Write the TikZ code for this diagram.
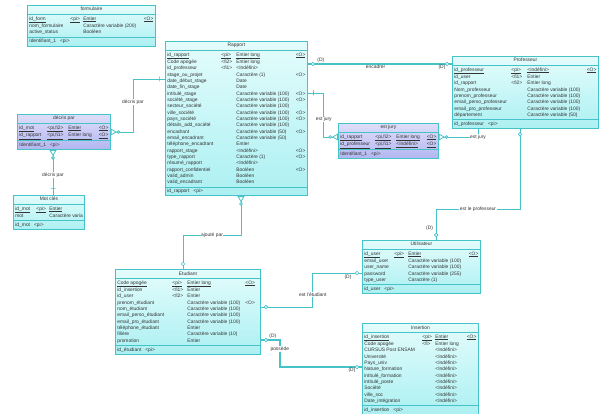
\documentclass[tikz,border=0pt]{standalone}
\usepackage{fontspec}
\setmainfont{Liberation Sans}
\usepackage{array}
\usetikzlibrary{shapes.multipart,arrows.meta}

\definecolor{entline}{RGB}{70,195,200}
\definecolor{enttop}{RGB}{228,252,252}
\definecolor{entbot}{RGB}{172,240,242}
\definecolor{assotop}{RGB}{222,222,250}
\definecolor{assobot}{RGB}{178,182,240}

\newcolumntype{L}[1]{p{#1}}
\newcolumntype{R}[1]{>{\raggedleft\arraybackslash}p{#1}}
\newcommand{\hd}{\rule[-1.8pt]{0pt}{6pt}}
\newcommand{\pkey}[1]{\underline{#1}}
\hbadness=10000 \hfuzz=20pt

\tikzset{
  entity/.style={rectangle split, rectangle split parts=3,
    rectangle split part align={center,left,left},
    draw=entline, line width=0.8pt, top color=enttop, bottom color=entbot,
    inner xsep=2pt, inner ysep=1pt, anchor=north west, text=black!80,
    font=\fontsize{4.9}{6.33}\selectfont},
  assoc/.style={entity, top color=assotop, bottom color=assobot},
  conn/.style={draw=entline, line width=0.8pt},
  heavy/.style={conn, line width=1.5pt},
  ocirc/.style={circle, draw=entline, line width=0.7pt, fill=white, inner sep=0pt, minimum size=3.5pt},
  vtick/.style={draw=entline, line width=0.7pt, inner sep=0pt, minimum width=0pt, minimum height=5pt},
  htick/.style={draw=entline, line width=0.7pt, inner sep=0pt, minimum width=5pt, minimum height=0pt},
  lbl/.style={fill=white, inner sep=0.6pt, text=black!80, font=\fontsize{4.9}{5.5}\selectfont},
  card/.style={lbl, fill=none},
  crow end/.style={-{Circle[open, fill=white, length=3.5pt, width=3.5pt] Triangle[open, reversed, length=6pt, width=7pt]}},
  crow start/.style={{Triangle[open, reversed, length=6pt, width=7pt] Circle[open, fill=white, length=3.5pt, width=3.5pt]}-},
}

\begin{document}
\begin{tikzpicture}[x=1pt, y=-1pt]
  \fill[white] (0,0) rectangle (605,414);
  \useasboundingbox (0,0) rectangle (605,414);

  \node[entity] (form) at (27,5) {\hd formulaire
    \nodepart{two}
    \begin{tabular}{@{}L{41pt}@{}L{13pt}@{}L{59pt}@{}R{11pt}@{}}
      \pkey{id\_form} & \pkey{<pi>} & \pkey{Entier} & \pkey{<O>}\\
      nom\_formulaire & & Caractère variable (200) & \\
      active\_status & & Booléen &
    \end{tabular}
    \nodepart{three}\hd Identifiant\_1\hspace{4pt}<pi>};

  \node[entity] (rapport) at (165,41) {\hd Rapport
    \nodepart{two}
    \begin{tabular}{@{}L{54pt}@{}L{15pt}@{}L{57pt}@{}R{12pt}@{}}
      \pkey{id\_rapport} & \pkey{<pi>} & \pkey{Entier long} & \pkey{<O>}\\
      Code apogée & <fi2> & Entier long & \\
      id\_professeur & <fi1> & <Indéfini> & \\
      stage\_ou\_projet & & Caractère (1) & <O>\\
      date\_début\_stage & & Date & \\
      date\_fin\_stage & & Date & \\
      intitulé\_stage & & Caractère variable (100) & <O>\\
      société\_stage & & Caractère variable (100) & <O>\\
      secteur\_société & & Caractère variable (100) & \\
      ville\_société & & Caractère variable (100) & <O>\\
      pays\_société & & Caractère variable (100) & <O>\\
      détails\_add\_société & & Caractère variable (100) & \\
      encadrant & & Caractère variable (50) & <O>\\
      email\_encadrant & & Caractère variable (50) & \\
      téléphone\_encadrant & & Entier & \\
      rapport\_stage & & <Indéfini> & <O>\\
      type\_rapport & & Caractère (1) & <O>\\
      résumé\_rapport & & <Indéfini> & \\
      rapport\_confidentiel & & Booléen & <O>\\
      valid\_admin & & Booléen & \\
      valid\_encadrant & & Booléen &
    \end{tabular}
    \nodepart{three}\hd id\_rapport\hspace{4pt}<pi>};

  \node[entity] (prof) at (452,56) {\hd Professeur
    \nodepart{two}
    \begin{tabular}{@{}L{57pt}@{}L{16pt}@{}L{56pt}@{}R{13pt}@{}}
      \pkey{id\_professeur} & \pkey{<pi>} & \pkey{<Indéfini>} & \pkey{<O>}\\
      id\_user & <fi1> & Entier & \\
      id\_rapport & <fi2> & Entier long & \\
      Nom\_professeur & & Caractère variable (100) & \\
      prenom\_professeur & & Caractère variable (100) & \\
      email\_perso\_professeur & & Caractère variable (100) & \\
      email\_pro\_professeur & & Caractère variable (100) & \\
      département & & Caractère variable (50) &
    \end{tabular}
    \nodepart{three}\hd id\_professeur\hspace{4pt}<pi>};

  \node[assoc] (decris) at (17,114) {\hd décris par
    \nodepart{two}
    \begin{tabular}{@{}L{28pt}@{}L{21pt}@{}L{27pt}@{}R{13pt}@{}}
      \pkey{id\_mot} & \pkey{<pi,fi2>} & \pkey{Entier} & \pkey{<O>}\\
      \pkey{id\_rapport} & \pkey{<pi,fi1>} & \pkey{Entier long} & \pkey{<O>}
    \end{tabular}
    \nodepart{three}\hd Identifiant\_1\hspace{4pt}<pi>};

  \node[entity] (motcle) at (13,195) {\hd Mot clés
    \nodepart{two}
    \begin{tabular}{@{}L{21pt}@{}L{13pt}@{}L{33pt}@{}}
      \pkey{id\_mot} & \pkey{<pi>} & \pkey{Entier}\\
      mot & & \mbox{Caractère varia}
    \end{tabular}
    \nodepart{three}\hd id\_mot\hspace{4pt}<pi>};

  \node[assoc] (jury) at (338,123) {\hd est jury
    \nodepart{two}
    \begin{tabular}{@{}L{35pt}@{}L{21pt}@{}L{27pt}@{}R{13pt}@{}}
      \pkey{id\_rapport} & \pkey{<pi,fi2>} & \pkey{Entier long} & \pkey{<O>}\\
      \pkey{id\_professeur} & \pkey{<pi,fi1>} & \pkey{<Indéfini>} & \pkey{<O>}
    \end{tabular}
    \nodepart{three}\hd Identifiant\_1\hspace{4pt}<pi>};

  \node[entity] (user) at (362,240) {\hd Utilisateur
    \nodepart{two}
    \begin{tabular}{@{}L{30pt}@{}L{14pt}@{}L{58pt}@{}R{12pt}@{}}
      \pkey{id\_user} & \pkey{<pi>} & \pkey{Entier} & \pkey{<O>}\\
      email\_user & & Caractère variable (100) & \\
      user\_name & & Caractère variable (100) & \\
      password & & Caractère variable (255) & \\
      type\_user & & Caractère (1) &
    \end{tabular}
    \nodepart{three}\hd id\_user\hspace{4pt}<pi>};

  \node[entity] (etud) at (115,269) {\hd Etudiant
    \nodepart{two}
    \begin{tabular}{@{}L{55pt}@{}L{15pt}@{}L{58pt}@{}L{13pt}@{}}
      \pkey{Code apogée} & \pkey{<pi>} & \pkey{Entier long} & \pkey{<O>}\\
      id\_insertion & <fi1> & Entier & \\
      id\_user & <fi2> & Entier & \\
      prenom\_étudiant & & Caractère variable (100) & <O>\\
      nom\_étudiant & & Caractère variable (100) & \\
      email\_perso\_étudiant & & Caractère variable (100) & \\
      email\_pro\_étudiant & & Caractère variable (100) & \\
      téléphone\_étudiant & & Entier & \\
      filière & & Caractère variable (10) & \\
      promotion & & Entier &
    \end{tabular}
    \nodepart{three}\hd id\_étudiant\hspace{4pt}<pi>};

  \node[entity] (insert) at (362,323) {\hd Insertion
    \nodepart{two}
    \begin{tabular}{@{}L{58pt}@{}L{13pt}@{}L{29pt}@{}R{12pt}@{}}
      \pkey{id\_insertion} & \pkey{<pi>} & \pkey{Entier} & \pkey{<O>}\\
      Code apogée & <fi> & Entier long & \\
      CURSUS Post ENSAM & & <Indéfini> & \\
      Université & & <Indéfini> & \\
      Pays\_univ & & <Indéfini> & \\
      Nature\_formation & & <Indéfini> & \\
      intitulé\_formation & & <Indéfini> & \\
      intitulé\_poste & & <Indéfini> & \\
      Société & & <Indéfini> & \\
      ville\_soc & & <Indéfini> & \\
      Date\_intégration & & <Indéfini> &
    \end{tabular}
    \nodepart{three}\hd id\_insertion\hspace{4pt}<pi>};

  % associations
  \draw[heavy] ([yshift=-23pt]rapport.north east) -- ([yshift=-8pt]prof.north west)
    node[ocirc, at start, xshift=5pt] {}
    node[ocirc, at end, xshift=-5pt] {}
    node[card, at start, above, xshift=13pt] {(D)}
    node[lbl, pos=0.47, below] {encadrer}
    node[card, at end, below, xshift=-10pt] {(D)};

  \draw[conn, crow end] ([yshift=-38pt]rapport.north west) -- ++(-32,0)
      node[vtick, at start, xshift=-6pt] {}
    |- ([yshift=-18pt]decris.north east)
      node[lbl, pos=0.22] {décris par};

  \draw[conn, crow start] ([xshift=36pt]decris.south west) -- ([xshift=40pt]motcle.north west)
    node[htick, at end, yshift=7pt] {}
    node[lbl, pos=0.55] {décris par};

  \draw[conn, crow end] ([yshift=-52pt]rapport.north east) -- ++(16,0)
      node[vtick, at start, xshift=6pt] {}
    |- ([yshift=-14pt]jury.north west)
      node[lbl, pos=0.3] {est jury};

  \draw[conn, crow end] ([xshift=26pt]prof.south west) |- ([yshift=-14pt]jury.north east)
    node[htick, at start, yshift=-7pt] {}
    node[lbl, pos=0.5] {est jury};

  \draw[conn] ([xshift=68pt]prof.south west) -- ++(0,80)
      node[ocirc, at start, yshift=-5.5pt] {}
    -| ([xshift=74pt]user.north west)
      node[lbl, pos=0.25] {est le professeur}
      node[ocirc, at end, yshift=5pt] {}
      node[card, at end, anchor=east, xshift=-2pt, yshift=12pt] {(D)};

  \draw[conn, crow start] ([xshift=76pt]rapport.south west) -- ++(0,39)
    -| ([xshift=68pt]etud.north west)
      node[lbl, pos=0.25] {ajouté par}
      node[ocirc, at end, yshift=5pt] {};

  \draw[conn] ([yshift=-38pt]etud.north east) -- ++(52,0)
      node[ocirc, at start, xshift=5pt] {}
    |- ([yshift=-33pt]user.north west)
      node[lbl, pos=0.18] {est l'étudiant}
      node[ocirc, at end, xshift=-5pt] {}
      node[card, at end, below, xshift=-14pt, yshift=-1pt] {(D)};

  \draw[heavy] ([yshift=-71pt]etud.north east) -- ++(19,0)
      node[ocirc, at start, xshift=5pt] {}
      node[card, at start, above, xshift=12pt] {(D)}
    |- ([yshift=-44pt]insert.north west)
      node[lbl, pos=0.17] {possède}
      node[ocirc, at end, xshift=-5pt] {}
      node[card, at end, below, xshift=-10pt] {(D)};
\end{tikzpicture}
\end{document}
